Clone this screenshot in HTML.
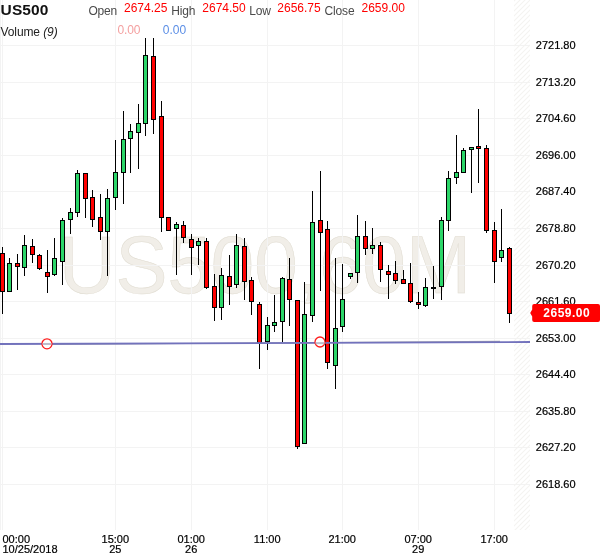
<!DOCTYPE html>
<html><head><meta charset="utf-8"><title>US500</title>
<style>
html,body{margin:0;padding:0;background:#fff;}
body{width:600px;height:558px;position:relative;overflow:hidden;font-family:"Liberation Sans",Arial,sans-serif;}
#c{position:absolute;left:0;top:0;width:600px;height:558px;overflow:hidden;}
#c div{line-height:normal;}
</style></head><body><div id="c">
<svg width="600" height="558" viewBox="0 0 600 558" style="position:absolute;left:0;top:0">
<defs><pattern id="hatch" width="5" height="5" patternUnits="userSpaceOnUse"><path d="M-1 6 L6 -1 M-1 1 L1 -1 M4 6 L6 4" stroke="#f4f3f1" stroke-width="1.1" fill="none"/></pattern></defs>
<rect width="600" height="558" fill="#fff"/>
<text x="265" y="292.7" transform="translate(0,292.7) scale(1,1.04) translate(0,-292.7)" text-anchor="middle" font-family="'Liberation Sans', Arial, sans-serif" font-size="78" fill="#f1eee8" stroke="#e0dcd1" stroke-width="0.5">US500,60M</text>
<g fill="#f3f3f3" shape-rendering="crispEdges">
<rect x="0" y="45" width="530" height="1"/>
<rect x="0" y="82" width="530" height="1"/>
<rect x="0" y="118" width="530" height="1"/>
<rect x="0" y="155" width="530" height="1"/>
<rect x="0" y="191" width="530" height="1"/>
<rect x="0" y="228" width="530" height="1"/>
<rect x="0" y="265" width="530" height="1"/>
<rect x="0" y="301" width="530" height="1"/>
<rect x="0" y="338" width="530" height="1"/>
<rect x="0" y="374" width="530" height="1"/>
<rect x="0" y="411" width="530" height="1"/>
<rect x="0" y="447" width="530" height="1"/>
<rect x="0" y="484" width="530" height="1"/>
<rect x="0" y="0" width="1" height="530"/>
<rect x="2" y="0" width="1" height="530"/>
<rect x="115" y="0" width="1" height="530"/>
<rect x="191" y="0" width="1" height="530"/>
<rect x="267" y="0" width="1" height="530"/>
<rect x="342" y="0" width="1" height="530"/>
<rect x="418" y="0" width="1" height="530"/>
<rect x="494" y="0" width="1" height="530"/>
</g>
<rect x="514" y="0" width="16" height="530" fill="url(#hatch)"/>
<g shape-rendering="crispEdges">
<rect x="2" y="247" width="1" height="67" fill="#000"/>
<rect x="0" y="253" width="5" height="39" fill="#000"/>
<rect x="1" y="254" width="3" height="37" fill="#ff0000"/>
<rect x="9" y="258" width="1" height="34" fill="#000"/>
<rect x="7" y="263" width="5" height="29" fill="#000"/>
<rect x="8" y="264" width="3" height="27" fill="#2cd669"/>
<rect x="17" y="254" width="1" height="36" fill="#000"/>
<rect x="15" y="263" width="5" height="4" fill="#000"/>
<rect x="16" y="264" width="3" height="2" fill="#ff0000"/>
<rect x="24" y="235" width="1" height="41" fill="#000"/>
<rect x="22" y="245" width="5" height="23" fill="#000"/>
<rect x="23" y="246" width="3" height="21" fill="#2cd669"/>
<rect x="32" y="239" width="1" height="24" fill="#000"/>
<rect x="30" y="246" width="5" height="9" fill="#000"/>
<rect x="31" y="247" width="3" height="7" fill="#ff0000"/>
<rect x="39" y="254" width="1" height="16" fill="#000"/>
<rect x="37" y="255" width="5" height="14" fill="#000"/>
<rect x="38" y="256" width="3" height="12" fill="#ff0000"/>
<rect x="47" y="250" width="1" height="43" fill="#000"/>
<rect x="45" y="272" width="5" height="5" fill="#000"/>
<rect x="46" y="273" width="3" height="3" fill="#ff0000"/>
<rect x="54" y="238" width="1" height="38" fill="#000"/>
<rect x="52" y="258" width="5" height="17" fill="#000"/>
<rect x="53" y="259" width="3" height="15" fill="#2cd669"/>
<rect x="62" y="218" width="1" height="67" fill="#000"/>
<rect x="60" y="220" width="5" height="42" fill="#000"/>
<rect x="61" y="221" width="3" height="40" fill="#2cd669"/>
<rect x="70" y="208" width="1" height="26" fill="#000"/>
<rect x="68" y="212" width="5" height="8" fill="#000"/>
<rect x="69" y="213" width="3" height="6" fill="#2cd669"/>
<rect x="77" y="170" width="1" height="47" fill="#000"/>
<rect x="75" y="173" width="5" height="40" fill="#000"/>
<rect x="76" y="174" width="3" height="38" fill="#2cd669"/>
<rect x="85" y="173" width="1" height="45" fill="#000"/>
<rect x="83" y="173" width="5" height="26" fill="#000"/>
<rect x="84" y="174" width="3" height="24" fill="#ff0000"/>
<rect x="92" y="190" width="1" height="37" fill="#000"/>
<rect x="90" y="197" width="5" height="23" fill="#000"/>
<rect x="91" y="198" width="3" height="21" fill="#ff0000"/>
<rect x="100" y="194" width="1" height="46" fill="#000"/>
<rect x="98" y="217" width="5" height="15" fill="#000"/>
<rect x="99" y="218" width="3" height="13" fill="#ff0000"/>
<rect x="107" y="189" width="1" height="87" fill="#000"/>
<rect x="105" y="198" width="5" height="34" fill="#000"/>
<rect x="106" y="199" width="3" height="32" fill="#2cd669"/>
<rect x="115" y="140" width="1" height="70" fill="#000"/>
<rect x="113" y="172" width="5" height="26" fill="#000"/>
<rect x="114" y="173" width="3" height="24" fill="#2cd669"/>
<rect x="123" y="111" width="1" height="93" fill="#000"/>
<rect x="121" y="139" width="5" height="34" fill="#000"/>
<rect x="122" y="140" width="3" height="32" fill="#2cd669"/>
<rect x="130" y="124" width="1" height="49" fill="#000"/>
<rect x="128" y="131" width="5" height="8" fill="#000"/>
<rect x="129" y="132" width="3" height="6" fill="#2cd669"/>
<rect x="138" y="104" width="1" height="65" fill="#000"/>
<rect x="136" y="123" width="5" height="10" fill="#000"/>
<rect x="137" y="124" width="3" height="8" fill="#2cd669"/>
<rect x="145" y="38" width="1" height="98" fill="#000"/>
<rect x="143" y="55" width="5" height="69" fill="#000"/>
<rect x="144" y="56" width="3" height="67" fill="#2cd669"/>
<rect x="153" y="38" width="1" height="96" fill="#000"/>
<rect x="151" y="56" width="5" height="64" fill="#000"/>
<rect x="152" y="57" width="3" height="62" fill="#ff0000"/>
<rect x="161" y="101" width="1" height="131" fill="#000"/>
<rect x="159" y="116" width="5" height="102" fill="#000"/>
<rect x="160" y="117" width="3" height="100" fill="#ff0000"/>
<rect x="168" y="217" width="1" height="14" fill="#000"/>
<rect x="166" y="217" width="5" height="14" fill="#000"/>
<rect x="167" y="218" width="3" height="12" fill="#ff0000"/>
<rect x="176" y="222" width="1" height="53" fill="#000"/>
<rect x="174" y="224" width="5" height="5" fill="#000"/>
<rect x="175" y="225" width="3" height="3" fill="#2cd669"/>
<rect x="183" y="221" width="1" height="22" fill="#000"/>
<rect x="181" y="225" width="5" height="13" fill="#000"/>
<rect x="182" y="226" width="3" height="11" fill="#ff0000"/>
<rect x="191" y="234" width="1" height="41" fill="#000"/>
<rect x="189" y="239" width="5" height="9" fill="#000"/>
<rect x="190" y="240" width="3" height="7" fill="#ff0000"/>
<rect x="198" y="238" width="1" height="27" fill="#000"/>
<rect x="196" y="241" width="5" height="5" fill="#000"/>
<rect x="197" y="242" width="3" height="3" fill="#2cd669"/>
<rect x="206" y="238" width="1" height="51" fill="#000"/>
<rect x="204" y="241" width="5" height="47" fill="#000"/>
<rect x="205" y="242" width="3" height="45" fill="#ff0000"/>
<rect x="214" y="274" width="1" height="47" fill="#000"/>
<rect x="212" y="286" width="5" height="22" fill="#000"/>
<rect x="213" y="287" width="3" height="20" fill="#ff0000"/>
<rect x="221" y="268" width="1" height="52" fill="#000"/>
<rect x="219" y="275" width="5" height="33" fill="#000"/>
<rect x="220" y="276" width="3" height="31" fill="#2cd669"/>
<rect x="229" y="255" width="1" height="50" fill="#000"/>
<rect x="227" y="276" width="5" height="11" fill="#000"/>
<rect x="228" y="277" width="3" height="9" fill="#ff0000"/>
<rect x="236" y="234" width="1" height="54" fill="#000"/>
<rect x="234" y="245" width="5" height="40" fill="#000"/>
<rect x="235" y="246" width="3" height="38" fill="#2cd669"/>
<rect x="244" y="238" width="1" height="62" fill="#000"/>
<rect x="242" y="246" width="5" height="36" fill="#000"/>
<rect x="243" y="247" width="3" height="34" fill="#ff0000"/>
<rect x="251" y="277" width="1" height="38" fill="#000"/>
<rect x="249" y="280" width="5" height="22" fill="#000"/>
<rect x="250" y="281" width="3" height="20" fill="#ff0000"/>
<rect x="259" y="302" width="1" height="67" fill="#000"/>
<rect x="257" y="304" width="5" height="39" fill="#000"/>
<rect x="258" y="305" width="3" height="37" fill="#ff0000"/>
<rect x="267" y="317" width="1" height="33" fill="#000"/>
<rect x="265" y="325" width="5" height="17" fill="#000"/>
<rect x="266" y="326" width="3" height="15" fill="#2cd669"/>
<rect x="274" y="295" width="1" height="37" fill="#000"/>
<rect x="272" y="322" width="5" height="4" fill="#000"/>
<rect x="273" y="323" width="3" height="2" fill="#2cd669"/>
<rect x="282" y="277" width="1" height="65" fill="#000"/>
<rect x="280" y="278" width="5" height="44" fill="#000"/>
<rect x="281" y="279" width="3" height="42" fill="#2cd669"/>
<rect x="289" y="258" width="1" height="68" fill="#000"/>
<rect x="287" y="279" width="5" height="21" fill="#000"/>
<rect x="288" y="280" width="3" height="19" fill="#ff0000"/>
<rect x="297" y="300" width="1" height="149" fill="#000"/>
<rect x="295" y="300" width="5" height="147" fill="#000"/>
<rect x="296" y="301" width="3" height="145" fill="#ff0000"/>
<rect x="304" y="282" width="1" height="162" fill="#000"/>
<rect x="302" y="314" width="5" height="130" fill="#000"/>
<rect x="303" y="315" width="3" height="128" fill="#2cd669"/>
<rect x="312" y="191" width="1" height="131" fill="#000"/>
<rect x="310" y="222" width="5" height="94" fill="#000"/>
<rect x="311" y="223" width="3" height="92" fill="#2cd669"/>
<rect x="320" y="171" width="1" height="120" fill="#000"/>
<rect x="318" y="220" width="5" height="13" fill="#000"/>
<rect x="319" y="221" width="3" height="11" fill="#ff0000"/>
<rect x="327" y="221" width="1" height="148" fill="#000"/>
<rect x="325" y="229" width="5" height="134" fill="#000"/>
<rect x="326" y="230" width="3" height="132" fill="#ff0000"/>
<rect x="335" y="258" width="1" height="131" fill="#000"/>
<rect x="333" y="328" width="5" height="38" fill="#000"/>
<rect x="334" y="329" width="3" height="36" fill="#2cd669"/>
<rect x="342" y="264" width="1" height="68" fill="#000"/>
<rect x="340" y="299" width="5" height="28" fill="#000"/>
<rect x="341" y="300" width="3" height="26" fill="#2cd669"/>
<rect x="350" y="273" width="1" height="6" fill="#000"/>
<rect x="348" y="273" width="5" height="4" fill="#000"/>
<rect x="349" y="274" width="3" height="2" fill="#2cd669"/>
<rect x="357" y="215" width="1" height="68" fill="#000"/>
<rect x="355" y="236" width="5" height="37" fill="#000"/>
<rect x="356" y="237" width="3" height="35" fill="#2cd669"/>
<rect x="365" y="221" width="1" height="34" fill="#000"/>
<rect x="363" y="236" width="5" height="13" fill="#000"/>
<rect x="364" y="237" width="3" height="11" fill="#ff0000"/>
<rect x="372" y="228" width="1" height="26" fill="#000"/>
<rect x="370" y="245" width="5" height="4" fill="#000"/>
<rect x="371" y="246" width="3" height="2" fill="#2cd669"/>
<rect x="380" y="242" width="1" height="40" fill="#000"/>
<rect x="378" y="245" width="5" height="25" fill="#000"/>
<rect x="379" y="246" width="3" height="23" fill="#ff0000"/>
<rect x="388" y="265" width="1" height="34" fill="#000"/>
<rect x="386" y="271" width="5" height="4" fill="#000"/>
<rect x="387" y="272" width="3" height="2" fill="#ff0000"/>
<rect x="395" y="261" width="1" height="23" fill="#000"/>
<rect x="393" y="273" width="5" height="8" fill="#000"/>
<rect x="394" y="274" width="3" height="6" fill="#ff0000"/>
<rect x="403" y="270" width="1" height="14" fill="#000"/>
<rect x="401" y="279" width="5" height="5" fill="#000"/>
<rect x="402" y="280" width="3" height="3" fill="#ff0000"/>
<rect x="410" y="263" width="1" height="40" fill="#000"/>
<rect x="408" y="283" width="5" height="19" fill="#000"/>
<rect x="409" y="284" width="3" height="17" fill="#ff0000"/>
<rect x="418" y="292" width="1" height="17" fill="#000"/>
<rect x="416" y="302" width="5" height="3" fill="#000"/>
<rect x="417" y="303" width="3" height="1" fill="#ff0000"/>
<rect x="425" y="278" width="1" height="29" fill="#000"/>
<rect x="423" y="287" width="5" height="19" fill="#000"/>
<rect x="424" y="288" width="3" height="17" fill="#2cd669"/>
<rect x="433" y="266" width="1" height="33" fill="#000"/>
<rect x="431" y="287" width="5" height="2" fill="#000"/>
<rect x="441" y="217" width="1" height="83" fill="#000"/>
<rect x="439" y="220" width="5" height="67" fill="#000"/>
<rect x="440" y="221" width="3" height="65" fill="#2cd669"/>
<rect x="448" y="171" width="1" height="60" fill="#000"/>
<rect x="446" y="178" width="5" height="43" fill="#000"/>
<rect x="447" y="179" width="3" height="41" fill="#2cd669"/>
<rect x="456" y="135" width="1" height="49" fill="#000"/>
<rect x="454" y="172" width="5" height="6" fill="#000"/>
<rect x="455" y="173" width="3" height="4" fill="#2cd669"/>
<rect x="463" y="148" width="1" height="25" fill="#000"/>
<rect x="461" y="150" width="5" height="23" fill="#000"/>
<rect x="462" y="151" width="3" height="21" fill="#2cd669"/>
<rect x="471" y="147" width="1" height="46" fill="#000"/>
<rect x="469" y="147" width="5" height="3" fill="#000"/>
<rect x="470" y="148" width="3" height="1" fill="#2cd669"/>
<rect x="478" y="109" width="1" height="74" fill="#000"/>
<rect x="476" y="146" width="5" height="3" fill="#000"/>
<rect x="477" y="147" width="3" height="1" fill="#ff0000"/>
<rect x="486" y="145" width="1" height="88" fill="#000"/>
<rect x="484" y="148" width="5" height="83" fill="#000"/>
<rect x="485" y="149" width="3" height="81" fill="#ff0000"/>
<rect x="494" y="222" width="1" height="61" fill="#000"/>
<rect x="492" y="230" width="5" height="32" fill="#000"/>
<rect x="493" y="231" width="3" height="30" fill="#ff0000"/>
<rect x="501" y="209" width="1" height="53" fill="#000"/>
<rect x="499" y="250" width="5" height="8" fill="#000"/>
<rect x="500" y="251" width="3" height="6" fill="#2cd669"/>
<rect x="509" y="247" width="1" height="76" fill="#000"/>
<rect x="507" y="248" width="5" height="66" fill="#000"/>
<rect x="508" y="249" width="3" height="64" fill="#ff0000"/>
</g>
<line x1="47" y1="344.5" x2="500" y2="341.3" stroke="#a8a8ae" stroke-width="1.2"/>
<line x1="0" y1="344" x2="530" y2="342" stroke="#7272bc" stroke-width="1.8"/>
<circle cx="47" cy="343.8" r="5" fill="#fff" stroke="#ff1c1c" stroke-width="1.3"/>
<line x1="42.6" y1="343.96" x2="51.4" y2="343.96" stroke="#bcbccb" stroke-width="2"/>
<circle cx="320" cy="342" r="5" fill="#fff" stroke="#ff1c1c" stroke-width="1.3"/>
<line x1="315.6" y1="343.13" x2="324.4" y2="343.13" stroke="#bcbccb" stroke-width="2"/>
<g font-family="'Liberation Sans', Arial, sans-serif">
<text x="0.6" y="14.7" font-size="15.5" fill="#111" font-weight="bold" letter-spacing="0.12">US500</text>
<text x="0.5" y="35.8" font-size="12" fill="#222" letter-spacing="-0.1">Volume <tspan font-style="italic">(9)</tspan></text>
<text x="88.5" y="14.8" font-size="12" fill="#4a4a4a" letter-spacing="-0.25">Open</text>
<text x="124" y="12" font-size="12" fill="#ff0000">2674.25</text>
<text x="171.3" y="14.8" font-size="12" fill="#4a4a4a" letter-spacing="-0.15">High</text>
<text x="202.3" y="12" font-size="12" fill="#ff0000">2674.50</text>
<text x="249.2" y="14.8" font-size="12" fill="#4a4a4a" letter-spacing="-0.15">Low</text>
<text x="277.3" y="12" font-size="12" fill="#ff0000">2656.75</text>
<text x="324.5" y="14.8" font-size="12" fill="#4a4a4a" letter-spacing="-0.15">Close</text>
<text x="361.5" y="12" font-size="12" fill="#ff0000">2659.00</text>
<text x="117.6" y="33.7" font-size="12" fill="#f4a0a0" letter-spacing="-0.15">0.00</text>
<text x="162.8" y="33.7" font-size="12" fill="#5b8ee6">0.00</text>
<text x="535.8" y="49" font-size="11" fill="#000" stroke="#000" stroke-width="0.2">2721.80</text>
<text x="535.8" y="86" font-size="11" fill="#000" stroke="#000" stroke-width="0.2">2713.20</text>
<text x="535.8" y="122" font-size="11" fill="#000" stroke="#000" stroke-width="0.2">2704.60</text>
<text x="535.8" y="159" font-size="11" fill="#000" stroke="#000" stroke-width="0.2">2696.00</text>
<text x="535.8" y="195" font-size="11" fill="#000" stroke="#000" stroke-width="0.2">2687.40</text>
<text x="535.8" y="232" font-size="11" fill="#000" stroke="#000" stroke-width="0.2">2678.80</text>
<text x="535.8" y="269" font-size="11" fill="#000" stroke="#000" stroke-width="0.2">2670.20</text>
<text x="535.8" y="305" font-size="11" fill="#000" stroke="#000" stroke-width="0.2">2661.60</text>
<text x="535.8" y="342" font-size="11" fill="#000" stroke="#000" stroke-width="0.2">2653.00</text>
<text x="535.8" y="378" font-size="11" fill="#000" stroke="#000" stroke-width="0.2">2644.40</text>
<text x="535.8" y="415" font-size="11" fill="#000" stroke="#000" stroke-width="0.2">2635.80</text>
<text x="535.8" y="451" font-size="11" fill="#000" stroke="#000" stroke-width="0.2">2627.20</text>
<text x="535.8" y="488" font-size="11" fill="#000" stroke="#000" stroke-width="0.2">2618.60</text>
<path d="M530.2 313 L532.2 309.5 L532.2 306 Q532.2 304 534.2 304 L598 304 Q600 304 600 306 L600 320 Q600 322 598 322 L534.2 322 Q532.2 322 532.2 320 L532.2 316.5 Z" fill="#ff0000"/>
<text x="543.3" y="317.1" font-size="12" fill="#fff" font-weight="bold" letter-spacing="0.5">2659.00</text>
<text x="2.5" y="543" font-size="11" fill="#000" stroke="#000" stroke-width="0.2">00:00</text>
<text x="2.5" y="552.8" font-size="11" fill="#000" stroke="#000" stroke-width="0.2">10/25/2018</text>
<text x="115.3" y="543" font-size="11" fill="#000" text-anchor="middle" stroke="#000" stroke-width="0.2">15:00</text>
<text x="115.3" y="552.8" font-size="11" fill="#000" text-anchor="middle" stroke="#000" stroke-width="0.2">25</text>
<text x="191.2" y="543" font-size="11" fill="#000" text-anchor="middle" stroke="#000" stroke-width="0.2">01:00</text>
<text x="191.2" y="552.8" font-size="11" fill="#000" text-anchor="middle" stroke="#000" stroke-width="0.2">26</text>
<text x="267.2" y="543" font-size="11" fill="#000" text-anchor="middle" stroke="#000" stroke-width="0.2">11:00</text>
<text x="342.2" y="543" font-size="11" fill="#000" text-anchor="middle" stroke="#000" stroke-width="0.2">21:00</text>
<text x="418.2" y="543" font-size="11" fill="#000" text-anchor="middle" stroke="#000" stroke-width="0.2">07:00</text>
<text x="418.2" y="552.8" font-size="11" fill="#000" text-anchor="middle" stroke="#000" stroke-width="0.2">29</text>
<text x="494.2" y="543" font-size="11" fill="#000" text-anchor="middle" stroke="#000" stroke-width="0.2">17:00</text>
</g>
</svg>

</div></body></html>
